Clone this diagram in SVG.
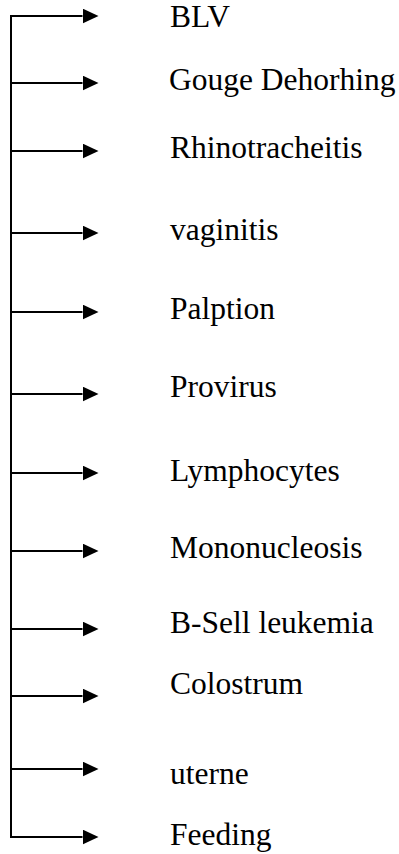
<svg xmlns="http://www.w3.org/2000/svg" width="399" height="854" viewBox="0 0 399 854">
<style>
.c{stroke:#000;stroke-width:2;fill:none}
.a{stroke:#000;stroke-width:2;fill:none;marker-end:url(#ah)}
.t{font-family:"Liberation Serif","Times New Roman",serif;font-size:31.5px;fill:#000}
</style>
<defs>
<marker id="ah" markerUnits="userSpaceOnUse" markerWidth="17" markerHeight="16" refX="0" refY="7.5" orient="auto">
<path d="M0,0 L16,7.5 L0,15 z" fill="#000"/>
</marker>
</defs>
<rect width="399" height="854" fill="#fff"/>
<g id="connectors">
<line class="c" x1="11" y1="15" x2="11" y2="838"/>
<line class="a" x1="10" y1="16" x2="82.5" y2="16"/>
<line class="a" x1="11" y1="83" x2="82.5" y2="83"/>
<line class="a" x1="11" y1="151" x2="82.5" y2="151"/>
<line class="a" x1="11" y1="233" x2="82.5" y2="233"/>
<line class="a" x1="11" y1="312" x2="82.5" y2="312"/>
<line class="a" x1="11" y1="394" x2="82.5" y2="394"/>
<line class="a" x1="11" y1="473" x2="82.5" y2="473"/>
<line class="a" x1="11" y1="551" x2="82.5" y2="551"/>
<line class="a" x1="11" y1="629" x2="82.5" y2="629"/>
<line class="a" x1="11" y1="696" x2="82.5" y2="696"/>
<line class="a" x1="11" y1="769" x2="82.5" y2="769"/>
<line class="a" x1="10" y1="837" x2="82.5" y2="837"/>
</g>
<g id="n1"><text class="t" x="170" y="27">BLV</text></g>
<g id="n2"><text class="t" x="169" y="90">Gouge Dehorhing</text></g>
<g id="n3"><text class="t" x="170" y="158">Rhinotracheitis</text></g>
<g id="n4"><text class="t" x="170" y="240">vaginitis</text></g>
<g id="n5"><text class="t" x="170" y="319">Palption</text></g>
<g id="n6"><text class="t" x="170" y="397">Provirus</text></g>
<g id="n7"><text class="t" x="170" y="481">Lymphocytes</text></g>
<g id="n8"><text class="t" x="170" y="558">Mononucleosis</text></g>
<g id="n9"><text class="t" x="170" y="633">B-Sell leukemia</text></g>
<g id="n10"><text class="t" x="170" y="694">Colostrum</text></g>
<g id="n11"><text class="t" x="170" y="784">uterne</text></g>
<g id="n12"><text class="t" x="170" y="845">Feeding</text></g>
</svg>
